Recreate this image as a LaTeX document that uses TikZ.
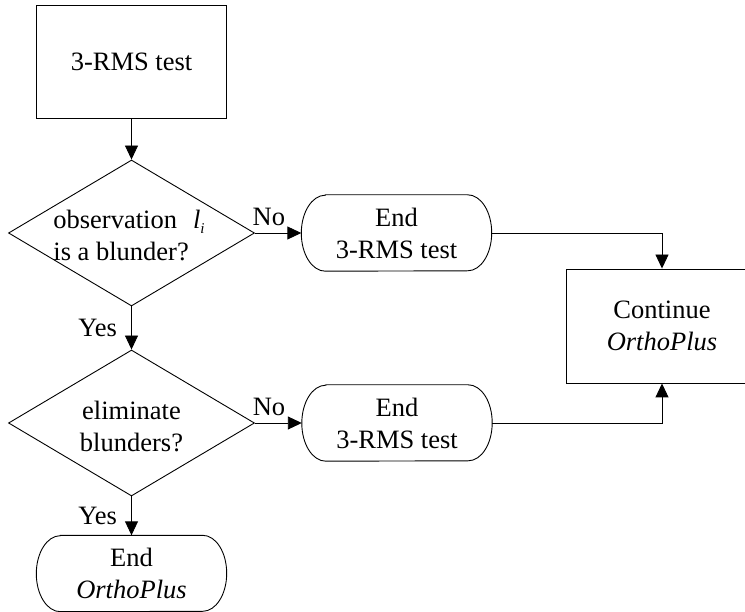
\documentclass[tikz,border=0pt]{standalone}
\usepackage{fontspec}
\setmainfont{Liberation Serif}
\usetikzlibrary{shapes.geometric,arrows.meta}
\newcommand\termoutline[1]{%
  \draw[line] ([xshift=24pt]#1.north west) -- ([xshift=-24pt]#1.north east)
    arc[start angle=90, end angle=-90, x radius=24pt, y radius=38pt]
    -- ([xshift=24pt]#1.south west)
    arc[start angle=270, end angle=90, x radius=24pt, y radius=38pt] -- cycle;}
\begin{document}
\begin{tikzpicture}[x=1pt,y=-1pt,
  every node/.style={font=\fontsize{26.5}{32}\selectfont},
  line/.style={draw=black, line width=0.9pt},
  arr/.style={line, -{Triangle[length=14pt,width=13pt]}},
  procbox/.style={line, rectangle, minimum width=190pt, minimum height=113pt, align=center, inner sep=0pt},
  decbox/.style={line, diamond, minimum width=246pt, minimum height=146pt, inner sep=0pt},
  termbox/.style={rectangle, minimum width=190pt, minimum height=76pt, align=center, inner sep=0pt},
  lbl/.style={inner sep=0pt}
]
\useasboundingbox (0,0) rectangle (745,612);
\clip (0,0) rectangle (745,612);

\node[procbox] (start) at (131.5,61.5) {3-RMS test};
\node[decbox] (d1) at (131.5,233) {};
\node[lbl, align=left] (d1t) at (129,235) {observation\hspace{16pt}\textit{l}\raisebox{-5pt}{\fontsize{15}{15}\selectfont\textit{i}}\\is a blunder?};
\node[termbox] (e1) at (396.5,233) {End\\3-RMS test};
\node[procbox, minimum width=192pt, minimum height=114pt] (cont) at (662,326) {Continue\\\textit{OrthoPlus}};
\node[decbox] (d2) at (131.5,423) {};
\node[lbl, align=center] (d2t) at (131.5,426) {eliminate\\blunders?};
\node[termbox] (e2) at (397,423) {End\\3-RMS test};
\node[termbox] (e3) at (131.5,573.5) {End\\\textit{OrthoPlus}};
\termoutline{e1}
\termoutline{e2}
\termoutline{e3}

\draw[arr] (start.south) -- (d1.north);
\draw[arr] (d1.east) -- node[lbl, pos=0.3, above=7pt] {No} (e1.west);
\draw[arr] (e1.east) -| (cont.north);
\draw[arr] (d1.south) -- node[lbl, left=14pt] {Yes} (d2.north);
\draw[arr] (d2.east) -- node[lbl, pos=0.3, above=7pt] {No} (e2.west);
\draw[arr] (e2.east) -| (cont.south);
\draw[arr] (d2.south) -- node[lbl, left=14pt] {Yes} (e3.north);
\end{tikzpicture}
\end{document}
